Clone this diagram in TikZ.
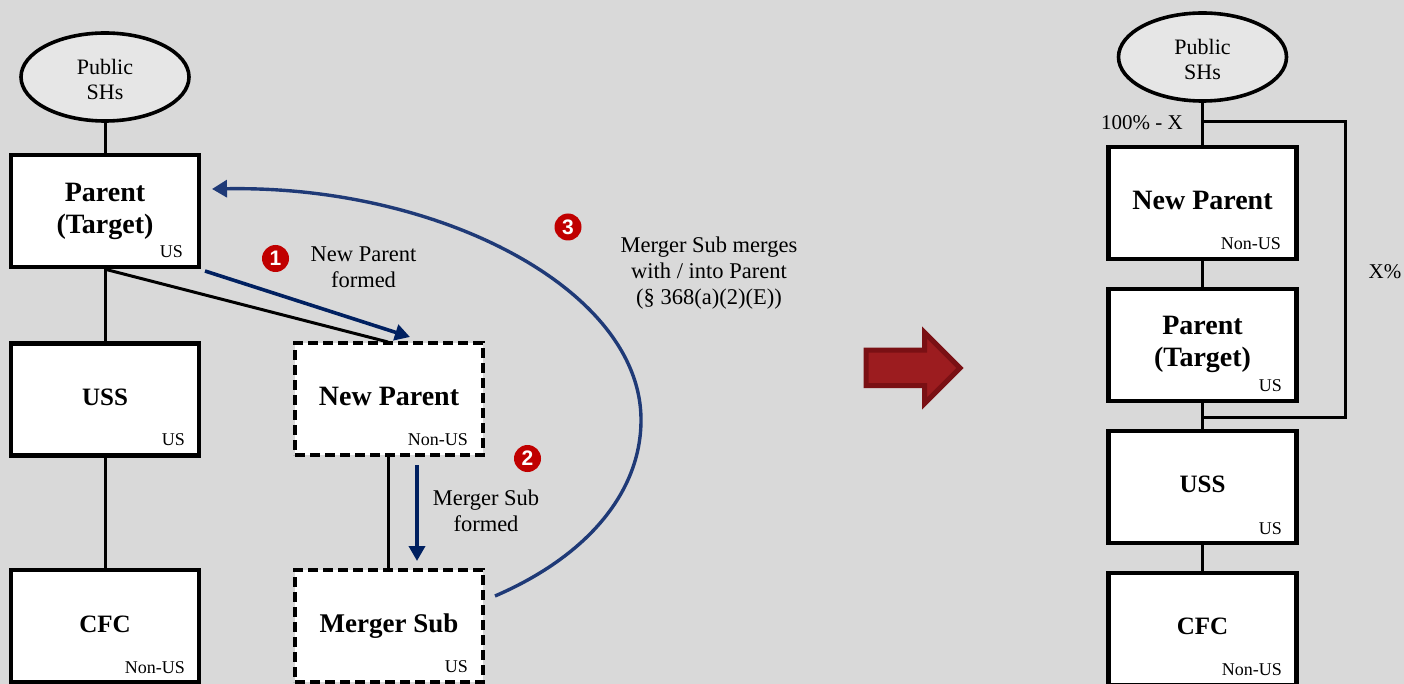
\documentclass[tikz,border=0pt]{standalone}
\usepackage{fontspec}
\setmainfont{Liberation Serif}
\setsansfont{Liberation Sans}
\usetikzlibrary{arrows.meta,shapes.geometric}
\definecolor{bgc}{HTML}{D9D9D9}
\definecolor{ellc}{HTML}{E6E6E6}
\definecolor{navyc}{HTML}{002060}
\definecolor{bluec}{HTML}{1F3A77}
\definecolor{redc}{HTML}{C00000}
\definecolor{arrfill}{HTML}{9C1C1F}
\definecolor{arrline}{HTML}{7A1014}
\newcommand{\liftname}[1]{\raisebox{5pt}{#1}}
\newcommand{\liftpair}[2]{\vbox{\hsize=150pt\centering #1\\#2\par\kern2pt}}
\newcommand{\sinkpair}[2]{\vbox{\kern4pt\hsize=100pt\centering #1\\#2\par}}
\newcommand{\smallname}{\fontsize{25}{30}\selectfont}
\tikzset{
  x=1pt,y=-1pt,
  solidbox/.style={draw=black,fill=white,line width=4.4pt,minimum width=188pt,minimum height=112pt,inner sep=0pt,align=center,font=\fontsize{28}{32}\selectfont\bfseries},
  dashbox/.style={solidbox,dash pattern=on 10pt off 5pt},
  holder/.style={draw=black,fill=ellc,line width=3.6pt,ellipse,minimum width=168pt,minimum height=88pt,inner sep=0pt,align=center,font=\fontsize{22}{25}\selectfont},
  tag/.style={anchor=east,inner sep=0pt,font=\fontsize{18}{20}\selectfont},
  note/.style={align=center,inner sep=0pt,font=\fontsize{22.5}{26}\selectfont},
  pct/.style={align=center,inner sep=0pt,font=\fontsize{21}{26}\selectfont},
  link/.style={draw=black,line width=3pt},
  flow/.style={draw=navyc,line width=3.6pt,-{Stealth[length=15pt,width=16pt,inset=0pt]}},
  flowb/.style={draw=bluec,line width=3.4pt,-{Stealth[length=15pt,width=17pt,inset=0pt]}},
  badge/.style={circle,fill=redc,text=white,minimum size=27pt,inner sep=0pt,font=\fontsize{21}{22}\selectfont\sffamily\bfseries}
}
\begin{document}
\begin{tikzpicture}
\useasboundingbox (0,0) rectangle (1404,684);
\clip (0,0) rectangle (1404,684);
\fill[bgc] (0,0) rectangle (1404,684);
\node[holder] (lpub) at (105,77) {\sinkpair{Public}{SHs}};
\node[solidbox] (lpar) at (105,211) {Parent\\(Target)};
\node[solidbox] (luss) at (105,399.5) {\liftname{\smallname USS}};
\node[solidbox] (lcfc) at (105,626) {\raisebox{3pt}{\smallname CFC}};
\node[dashbox] (lnew) at (389,399) {\liftname{New Parent}};
\node[dashbox] (lsub) at (389,626) {\fontsize{27}{32}\selectfont Merger Sub};
\draw[link] (lpub.south) -- (lpar.north);
\draw[link] (lpar.south) -- (luss.north);
\draw[link] (luss.south) -- (lcfc.north);
\coordinate (ntop) at (388,342);
\draw[link] (lpar.south) -- (ntop);
\coordinate (nb) at (388,456);
\coordinate (sb) at (388,569);
\draw[link] (nb) -- (sb);
\node[tag] (t1) at (183,252) {US};
\node[tag] (t2) at (185,440) {US};
\node[tag] (t3) at (185,668) {Non-US};
\node[tag] (t4) at (468,440) {Non-US};
\node[tag] (t5) at (468,667) {US};
\coordinate (a1s) at (205,271);
\coordinate (a1e) at (410,337);
\draw[flow] (a1s) -- (a1e);
\coordinate (a2s) at (417,465);
\coordinate (a2e) at (417,561);
\draw[flow] (a2s) -- (a2e);
\coordinate (c1) at (495,596);
\coordinate (c2) at (641,420);
\coordinate (c3) at (212,189);
\draw[flowb] (c1) .. controls (590,555) and (641,490) .. (c2) .. controls (641,290) and (440,185) .. (c3);
\node[badge] (b1) at (275.5,258.5) {1};
\node[badge] (b2) at (527.5,458.5) {2};
\node[badge] (b3) at (568,227) {3};
\node[note] (n1) at (363.5,267) {New Parent\\formed};
\node[note] (n2) at (486,511) {Merger Sub\\formed};
\node[note] (n3) at (709,273.5) {Merger Sub merges\\with / into Parent\\(§ 368(a)(2)(E))};
\path[fill=arrfill,draw=arrline,line width=5pt,miter limit=10]
  (866,350) -- (924.5,350) -- (924.5,332.5) -- (960,368) -- (924.5,403.5) -- (924.5,385.5) -- (866,385.5) -- cycle;
\node[holder] (rpub) at (1202.5,57) {\sinkpair{Public}{SHs}};
\node[solidbox] (rnew) at (1202.5,203) {\liftname{New Parent}};
\node[solidbox] (rpar) at (1202.5,345) {\liftpair{Parent}{(Target)}};
\node[solidbox] (russ) at (1202.5,487) {\liftname{\smallname USS}};
\node[solidbox] (rcfc) at (1202.5,629) {\liftname{\smallname CFC}};
\draw[link] (rpub.south) -- (rnew.north);
\draw[link] (rnew.south) -- (rpar.north);
\draw[link] (rpar.south) -- (russ.north);
\draw[link] (russ.south) -- (rcfc.north);
\coordinate (j1) at (1202.5,122);
\coordinate (j2) at (1202.5,417);
\coordinate (rc1) at (1345,122);
\coordinate (rc2) at (1345,417);
\draw[link,line join=miter] (j1) -- (rc1) -- (rc2) -- (j2);
\node[tag] (r1) at (1281,244) {Non-US};
\node[tag] (r2) at (1282,386) {US};
\node[tag] (r3) at (1282,529) {US};
\node[tag] (r4) at (1282,670) {Non-US};
\node[pct] (pc1) at (1142,123) {100\% - X};
\node[pct] (pc2) at (1385,272) {X\%};
\end{tikzpicture}
\end{document}
